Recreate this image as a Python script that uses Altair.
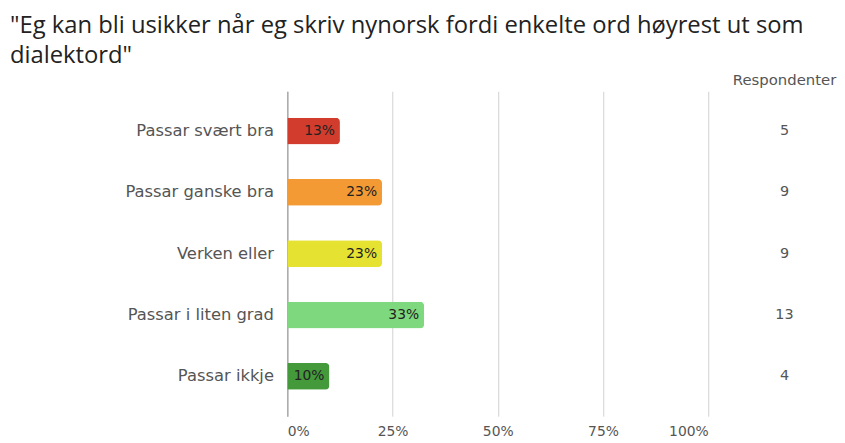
import altair as alt
import pandas as pd

categories = ["Passar svært bra", "Passar ganske bra", "Verken eller", "Passar i liten grad", "Passar ikkje"]
shares = [0.125, 0.225, 0.225, 0.325, 0.10]
share_labels = ["13%", "23%", "23%", "33%", "10%"]
respondents = [5, 9, 9, 13, 4]
colors = ["#d23c2d", "#f49a34", "#e6e232", "#7ed87e", "#44993b"]
x_ticks = [0, 0.25, 0.5, 0.75, 1.0]

df = pd.DataFrame({
    "cat": categories,
    "share": shares,
    "lbl": share_labels,
    "count": respondents,
})

yscale = alt.Scale(type="band", domain=categories, paddingInner=0, paddingOuter=0.15)
FONT = "DejaVu Sans"

bars = alt.Chart(df).mark_bar(cornerRadiusEnd=4, size=27).encode(
    x=alt.X("share:Q", scale=alt.Scale(domain=[0, 1]),
            axis=alt.Axis(format="%", values=x_ticks, title=None, grid=True,
                          gridColor="#d0d0d0", domain=False, ticks=False,
                          labelFlush=True, labelColor="#555", labelFont=FONT,
                          labelFontSize=14, labelPadding=9)),
    y=alt.Y("cat:N", sort=categories, scale=yscale,
            axis=alt.Axis(title=None, ticks=False, domain=True, domainColor="#aaaaaa",
                          domainWidth=1.5, labelFont=FONT, labelFontSize=16.5,
                          labelColor="#555", labelPadding=14,
                          minExtent=280, maxExtent=280)),
    color=alt.Color("cat:N", scale=alt.Scale(domain=categories, range=colors), legend=None),
)

labels = alt.Chart(df).mark_text(align="right", dx=-5, color="#222", fontSize=14, font=FONT).encode(
    x="share:Q",
    y=alt.Y("cat:N", sort=categories, scale=yscale),
    text="lbl:N",
)

left = (bars + labels).properties(width=425, height=328)

right = alt.Chart(df).mark_text(font=FONT, fontSize=14.5, color="#555").encode(
    y=alt.Y("cat:N", sort=categories, scale=yscale, axis=None),
    text="count:Q",
).properties(
    width=100, height=328,
    title=alt.TitleParams("Respondenter", font=FONT, fontSize=15, color="#555",
                          fontWeight="normal", offset=3),
)

chart = alt.hconcat(left, right, spacing=24).properties(
    title=alt.TitleParams(
        ['"Eg kan bli usikker når eg skriv nynorsk fordi enkelte ord høyrest ut som', 'dialektord"'],
        anchor="start", font="Open Sans", fontSize=24, fontWeight="normal",
        color="#222", lineHeight=30, offset=6),
    padding={"left": 2, "top": 4, "right": 0, "bottom": 0},
).configure_view(stroke=None).configure_concat(spacing=24)

chart.save("out.html", embed_options={"renderer": "svg", "actions": False})
